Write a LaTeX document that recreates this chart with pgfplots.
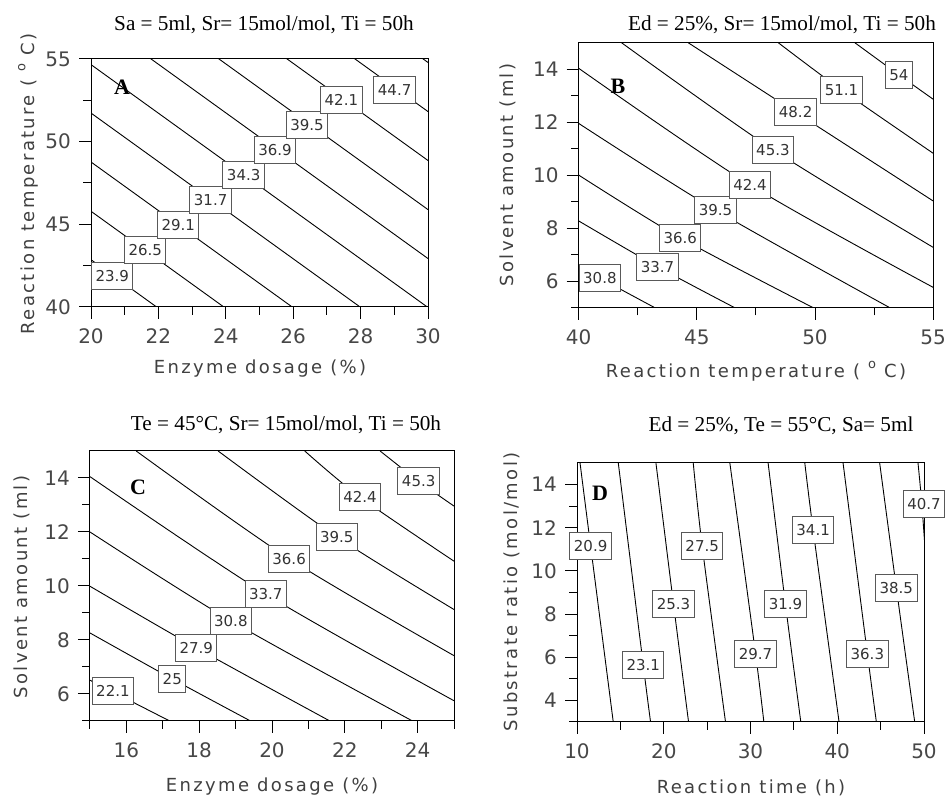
\documentclass[border=0pt]{standalone}
\usepackage{pgfplots}
\pgfplotsset{compat=1.18}
\usepackage{fontspec}
\setmainfont{DejaVu Sans}
\newfontfamily\lab{DejaVu Sans}[LetterSpace=13]
\newfontfamily\tm{Liberation Serif}
\tikzset{
 lbl/.style={draw=black!65, line width=0.5pt, fill=white, font=\fontsize{7.5}{9}\selectfont, text=black!80, inner xsep=2pt, inner ysep=0pt, minimum height=13.5pt},
 ttl/.style={font=\tm\fontsize{10.6}{12}\selectfont},
 plet/.style={font=\tm\bfseries\fontsize{11}{13}\selectfont},
 alab/.style={font=\lab\fontsize{9}{11}\selectfont, text=black!75},
 ct/.style={black, line width=0.45pt, mark=none},
}
\newcommand\degC{( \raisebox{0.9ex}{\fontsize{6.5}{7}\selectfont o} C)}
\pgfplotsset{cstyle/.style={
 scale only axis, anchor=south west, clip mode=individual,
 axis line style={line width=0.5pt},
 tick align=outside, tick pos=left,
 major tick length=6pt, minor tick length=3.8pt,
 every tick/.append style={black, line width=0.5pt},
 every minor tick/.append style={black, line width=0.5pt},
 tick label style={font=\fontsize{10}{12}\selectfont, text=black!72},
 xticklabel style={yshift=-1.5pt},
 yticklabel style={xshift=-0.5pt},
 /pgf/number format/assume math mode=true,
 cycle list={{black, mark=none}},
}}
\begin{document}
\begin{tikzpicture}
\useasboundingbox (0,0) rectangle (474.5pt,-400.5pt);
% ---------------- A
\begin{axis}[cstyle, at={(45.5pt,-153.5pt)}, width=168.5pt, height=124pt,
 xmin=20, xmax=30, ymin=40, ymax=55,
 xtick={20,22,...,30}, minor xtick={21,23,...,29},
 ytick={40,45,50,55}, minor ytick={42.5,47.5,52.5}]
\addplot[ct] coordinates {(20,42.86) (30,28.17)};
\addplot[ct] coordinates {(20,45.79) (30,31.10)};
\addplot[ct] coordinates {(20,48.77) (30,34.08)};
\addplot[ct] coordinates {(20,51.73) (30,37.04)};
\addplot[ct] coordinates {(20,54.66) (30,39.97)};
\addplot[ct] coordinates {(20,57.62) (30,42.93)};
\addplot[ct] coordinates {(20,60.58) (30,45.89)};
\addplot[ct] coordinates {(20,63.55) (30,48.86)};
\addplot[ct] coordinates {(20,66.51) (30,51.82)};
\addplot[ct] coordinates {(20,69.48) (30,54.79)};
\node[lbl] at (axis cs:20.63,41.90) {23.9};
\node[lbl] at (axis cs:21.61,43.43) {26.5};
\node[lbl] at (axis cs:22.59,44.94) {29.1};
\node[lbl] at (axis cs:23.55,46.45) {31.7};
\node[lbl] at (axis cs:24.53,47.96) {34.3};
\node[lbl] at (axis cs:25.46,49.50) {36.9};
\node[lbl] at (axis cs:26.41,51.01) {39.5};
\node[lbl] at (axis cs:27.43,52.50) {42.1};
\node[lbl] at (axis cs:29.01,53.10) {44.7};
\end{axis}
% ---------------- B
\begin{axis}[cstyle, at={(289.3pt,-153.9pt)}, width=177.3pt, height=132.5pt,
 xmin=40, xmax=55, ymin=5, ymax=15,
 xtick={40,45,50,55}, minor xtick={42.5,47.5,52.5},
 ytick={6,8,...,14}, minor ytick={5,7,...,13}]
\addplot[ct] coordinates {(40,6.55) (43.23,5)};
\addplot[ct,smooth] coordinates {(40,8.28) (43.34,6.55) (46.61,5)};
\addplot[ct,smooth] coordinates {(40,10.01) (44.30,7.64) (49.93,5)};
\addplot[ct,smooth] coordinates {(40,11.96) (45.79,8.69) (53.17,5)};
\addplot[ct,smooth] coordinates {(40,14.04) (47.25,9.64) (55,5.77)};
\addplot[ct,smooth] coordinates {(41.82,15) (48.22,10.97) (55,7.28)};
\addplot[ct,smooth] coordinates {(44.64,15) (49.18,12.38) (55,9.03)};
\addplot[ct,smooth] coordinates {(48.45,15) (51.12,13.22) (55,10.83)};
\addplot[ct,smooth] coordinates {(51.69,15) (53.55,13.79) (55,12.87)};
\node[lbl] at (axis cs:40.90,6.14) {30.8};
\node[lbl] at (axis cs:43.34,6.55) {33.7};
\node[lbl] at (axis cs:44.30,7.63) {36.6};
\node[lbl] at (axis cs:45.79,8.69) {39.5};
\node[lbl] at (axis cs:47.25,9.64) {42.4};
\node[lbl] at (axis cs:48.22,10.97) {45.3};
\node[lbl] at (axis cs:49.18,12.38) {48.2};
\node[lbl] at (axis cs:51.12,13.22) {51.1};
\node[lbl] at (axis cs:53.55,13.79) {54};
\end{axis}
% ---------------- C
\begin{axis}[cstyle, at={(45pt,-360.5pt)}, width=182pt, height=135pt,
 xmin=15, xmax=25, ymin=5, ymax=15,
 xtick={16,18,...,24}, minor xtick={15,17,...,25},
 ytick={6,8,...,14}, minor ytick={5,7,...,13}]
\addplot[ct] coordinates {(15,6.51) (17.19,5)};
\addplot[ct,smooth] coordinates {(15,8.26) (17.26,6.56) (19.41,5)};
\addplot[ct,smooth] coordinates {(15,9.99) (17.92,7.71) (21.59,5)};
\addplot[ct,smooth] coordinates {(15,12.00) (18.87,8.71) (23.86,5)};
\addplot[ct,smooth] coordinates {(15,14.05) (19.83,9.70) (25,5.75)};
\addplot[ct,smooth] coordinates {(16.27,15) (20.47,11.01) (25,7.42)};
\addplot[ct,smooth] coordinates {(18.52,15) (21.78,11.82) (25,9.13)};
\addplot[ct,smooth] coordinates {(20.90,15) (22.42,13.29) (25,10.92)};
\addplot[ct,smooth] coordinates {(22.97,15) (24.03,13.88) (25,12.96)};
\node[lbl] at (axis cs:15.63,6.12) {22.1};
\node[lbl] at (axis cs:17.26,6.56) {25};
\node[lbl] at (axis cs:17.92,7.71) {27.9};
\node[lbl] at (axis cs:18.87,8.71) {30.8};
\node[lbl] at (axis cs:19.83,9.70) {33.7};
\node[lbl] at (axis cs:20.47,11.01) {36.6};
\node[lbl] at (axis cs:21.78,11.82) {39.5};
\node[lbl] at (axis cs:22.42,13.29) {42.4};
\node[lbl] at (axis cs:24.03,13.88) {45.3};
\end{axis}
% ---------------- D
\begin{axis}[cstyle, at={(288.5pt,-361pt)}, width=173.5pt, height=129.5pt,
 xmin=10, xmax=50, ymin=3, ymax=15,
 xtick={10,20,...,50}, minor xtick={15,25,35,45},
 ytick={4,6,...,14}, minor ytick={3,5,...,13}]
\addplot[ct,smooth] coordinates {(10.35,15) (11.57,11.15) (14.18,3)};
\addplot[ct,smooth] coordinates {(14.76,15) (17.64,5.63) (18.48,3)};
\addplot[ct,smooth] coordinates {(19.10,15) (21.13,8.45) (22.86,3)};
\addplot[ct,smooth] coordinates {(23.40,15) (24.43,11.15) (27.12,3)};
\addplot[ct,smooth] coordinates {(27.62,15) (30.58,6.17) (31.54,3)};
\addplot[ct,smooth] coordinates {(32.03,15) (34.03,8.45) (35.80,3)};
\addplot[ct,smooth] coordinates {(36.26,15) (37.22,11.90) (40.21,3)};
\addplot[ct,smooth] coordinates {(40.67,15) (43.47,6.17) (44.51,3)};
\addplot[ct,smooth] coordinates {(44.89,15) (46.81,9.22) (48.93,3)};
\addplot[ct,smooth] coordinates {(49.31,15) (49.75,13.10) (50.3,10)};
\node[lbl] at (axis cs:11.57,11.15) {20.9};
\node[lbl] at (axis cs:17.64,5.63) {23.1};
\node[lbl] at (axis cs:21.13,8.45) {25.3};
\node[lbl] at (axis cs:24.43,11.15) {27.5};
\node[lbl] at (axis cs:30.58,6.17) {29.7};
\node[lbl] at (axis cs:34.03,8.45) {31.9};
\node[lbl] at (axis cs:37.22,11.90) {34.1};
\node[lbl] at (axis cs:43.47,6.17) {36.3};
\node[lbl] at (axis cs:46.81,9.22) {38.5};
\node[lbl] at (axis cs:50.00,13.10) {40.7};
\end{axis}
% ---------------- titles
\node[ttl] at (132pt,-12.5pt) {Sa = 5ml, Sr= 15mol/mol, Ti = 50h};
\node[ttl] at (391pt,-12.5pt) {Ed = 25\%, Sr= 15mol/mol, Ti = 50h};
\node[ttl] at (143pt,-212.5pt) {Te = 45°C, Sr= 15mol/mol, Ti = 50h};
\node[ttl] at (390.5pt,-213pt) {Ed = 25\%, Te = 55°C, Sa= 5ml};
% panel letters
\node[plet] at (61pt,-43.5pt) {A};
\node[plet] at (309pt,-43pt) {B};
\node[plet] at (69pt,-243.5pt) {C};
\node[plet] at (300pt,-246.5pt) {D};
% axis labels
\node[alab] at (130pt,-184.5pt) {Enzyme dosage (\%)};
\node[alab, rotate=90] at (14pt,-92pt) {Reaction temperature \degC};
\node[alab] at (378pt,-185.5pt) {Reaction temperature \degC};
\node[alab, rotate=90] at (254pt,-87.5pt) {Solvent amount (ml)};
\node[alab] at (136pt,-393.5pt) {Enzyme dosage (\%)};
\node[alab, rotate=90] at (11pt,-293.5pt) {Solvent amount (ml)};
\node[alab] at (375.5pt,-394pt) {Reaction time (h)};
\node[alab, rotate=90] at (256pt,-296pt) {Substrate ratio (mol/mol)};
\end{tikzpicture}
\end{document}
